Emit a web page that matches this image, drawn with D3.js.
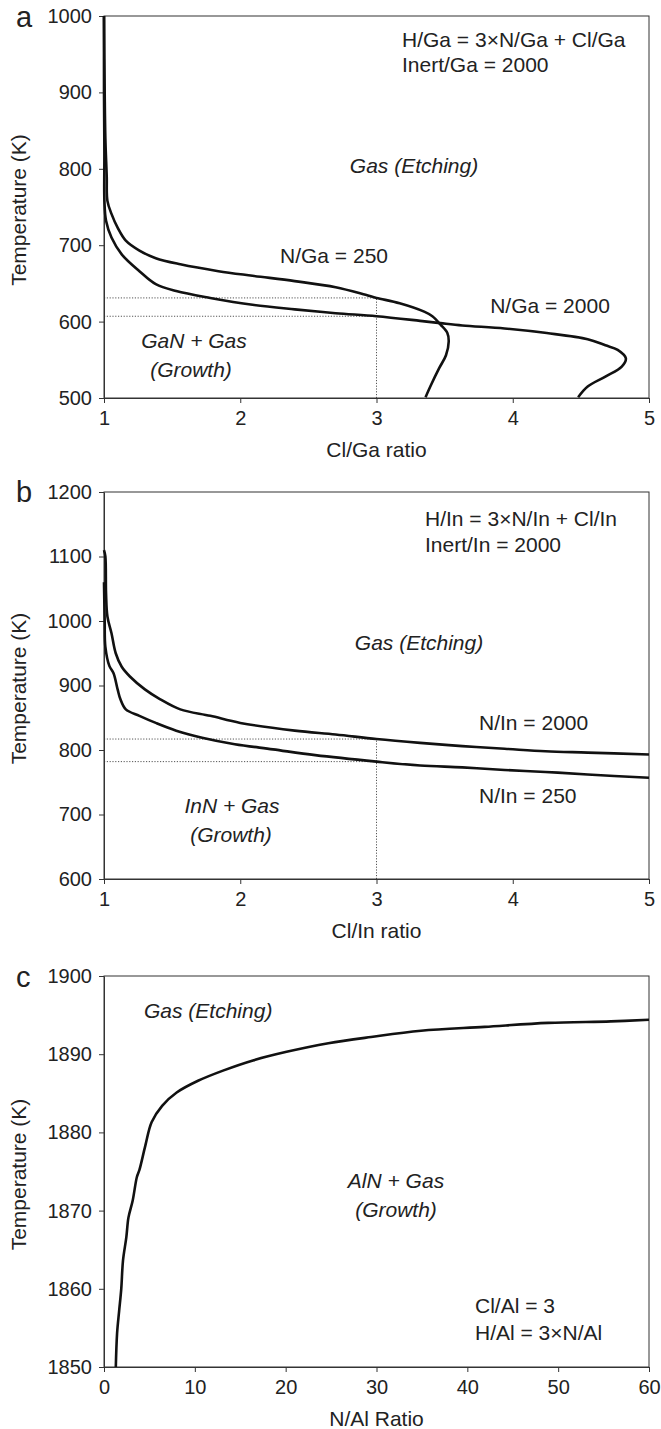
<!DOCTYPE html>
<html>
<head>
<meta charset="utf-8">
<script src="https://cdn.jsdelivr.net/npm/d3@7"></script>
<style>
  body { margin: 0; background: #fff; }
  text { font-family: "Liberation Sans", Arial, sans-serif; fill: #222; }
</style>
</head>
<body>
<script>
// ---- data ----
// panel a : Cl/Ga ratio vs temperature
const gaTicksX = [1, 2, 3, 4, 5]
const gaTicksY = [500, 600, 700, 800, 900, 1000]
const gaN250 = [[1.0,1000],[1.005,900],[1.01,840],[1.02,790],[1.025,758],[1.055,741],[1.10,723],[1.16,706],[1.26,693],
  [1.38,683],[1.56,675],[1.84,666],[2.09,660],[2.40,653],[2.70,645],[2.92,635],[3.0,631],[3.17,624],[3.35,613],
  [3.41,607],[3.47,596],[3.52,585],[3.53,574],[3.51,556],[3.46,539],[3.40,517],[3.36,501]]
const gaN2000 = [[1.0,1000],[1.0,900],[1.003,820],[1.003,758],[1.015,732],[1.055,710],[1.13,688],[1.26,666],[1.38,649],
  [1.53,640],[1.78,631],[2.09,622],[2.40,616],[2.70,611],[3.0,607],[3.32,601],[3.47,598],[3.63,595],[3.94,591],
  [4.25,585],[4.55,577],[4.68,569],[4.77,563],[4.83,552],[4.80,541],[4.68,528],[4.55,515],[4.48,501]]
const gaGuide = {x: 3, temps: [631, 607]}

// panel b : Cl/In ratio vs temperature
const inTicksX = [1, 2, 3, 4, 5]
const inTicksY = [600, 700, 800, 900, 1000, 1100, 1200]
const inN2000 = [[1.0,1110],[1.01,1100],[1.015,1043],[1.025,1007],[1.055,981],[1.086,950],[1.13,929],[1.19,914],
  [1.30,894],[1.41,879],[1.56,863],[1.78,853],[2.0,842],[2.40,830],[2.70,824],[3.0,817],[3.32,811],[3.63,806],
  [3.94,802],[4.24,798],[4.55,796],[5.0,793]]
const inN250 = [[1.0,1060],[1.005,1000],[1.01,960],[1.04,930],[1.07,919],[1.10,894],[1.12,879],[1.16,863],[1.26,853],
  [1.38,842],[1.53,830],[1.72,819],[1.96,809],[2.24,801],[2.55,792],[3.0,782],[3.32,776],[3.63,773],[3.94,769],
  [4.24,766],[4.55,762],[5.0,757]]
const inGuide = {x: 3, temps: [817, 782]}

// panel c : N/Al ratio vs temperature
const alTicksX = [0, 10, 20, 30, 40, 50, 60]
const alTicksY = [1850, 1860, 1870, 1880, 1890, 1900]
const alN = [[1.3,1850],[1.44,1854.3],[1.67,1857.2],[1.9,1860],[2.09,1863.6],[2.46,1866.6],[2.69,1869.1],[3.16,1871.3],
  [3.62,1874.3],[3.9,1875.2],[4.55,1878.3],[5.24,1881.3],[6.4,1883.4],[8.0,1885.1],[10.35,1886.6],[13.1,1887.9],
  [16.4,1889.2],[20.1,1890.3],[24.7,1891.4],[29.4,1892.2],[34.9,1893.0],[41.9,1893.5],[48.9,1894.0],[55.8,1894.2],[60,1894.4]]

const svg = d3.select("body").append("svg")
  .attr("width", 661)
  .attr("height", 1429)

const left = 104, right = 649
const fs = 21      // annotation / title size
const tickFs = 20  // tick label size

function drawPanel(p) {
  const x = d3.scaleLinear().domain(p.xDomain).range([left, right])
  const y = d3.scaleLinear().domain(p.yDomain).range([p.bottom, p.top])
  const g = svg.append("g")

  // guides (dotted)
  if (p.guide) {
    p.guide.temps.forEach(t => {
      g.append("line")
        .attr("x1", x(p.xDomain[0])).attr("x2", x(p.guide.x))
        .attr("y1", y(t)).attr("y2", y(t))
        .attr("class", "guide")
    })
    g.append("line")
      .attr("x1", x(p.guide.x)).attr("x2", x(p.guide.x))
      .attr("y1", y(p.yDomain[0])).attr("y2", y(d3.max(p.guide.temps)))
      .attr("class", "guide")
    g.selectAll(".guide")
      .attr("stroke", "#555")
      .attr("stroke-width", 1)
      .attr("stroke-dasharray", "1.2,1.6")
  }

  // frame
  g.append("rect")
    .attr("x", left).attr("y", p.top)
    .attr("width", right - left).attr("height", p.bottom - p.top)
    .attr("fill", "none").attr("stroke", "#333").attr("stroke-width", 1)

  const yAxis = g.append("g")
    .attr("transform", `translate(${left},0)`)
    .call(d3.axisLeft(y).tickValues(p.yTicks).tickSize(5).tickSizeOuter(0).tickPadding(7).tickFormat(d3.format("d")))
  const xAxis = g.append("g")
    .attr("transform", `translate(0,${p.bottom})`)
    .call(d3.axisBottom(x).tickValues(p.xTicks).tickSize(5).tickSizeOuter(0).tickPadding(8).tickFormat(d3.format("d")))
  ;[yAxis, xAxis].forEach(a => {
    a.select(".domain").attr("stroke", "#333")
    a.selectAll(".tick line").attr("stroke", "#333")
    a.selectAll(".tick text").style("font-size", tickFs + "px").attr("fill", "#222")
      .style("font-family", '"Liberation Sans", Arial, sans-serif')
  })

  // curves
  const line = d3.line().curve(d3.curveCatmullRom.alpha(0.5)).x(d => x(d[0])).y(d => y(d[1]))
  p.series.forEach(s => {
    g.append("path")
      .datum(s)
      .attr("d", line)
      .attr("fill", "none")
      .attr("stroke", "#111")
      .attr("stroke-width", 2.6)
      .attr("stroke-linejoin", "round")
  })

  // axis titles
  g.append("text")
    .attr("x", (left + right) / 2).attr("y", p.bottom + 59)
    .attr("text-anchor", "middle").style("font-size", fs + "px")
    .text(p.xTitle)
  g.append("text")
    .attr("transform", `translate(26,${(p.top + p.bottom) / 2 + 3}) rotate(-90)`)
    .attr("text-anchor", "middle").style("font-size", fs + "px")
    .text("Temperature (K)")

  // panel letter
  g.append("text")
    .attr("x", 16).attr("y", p.letterY)
    .style("font-size", "29px")
    .text(p.letter)

  // annotations
  p.notes.forEach(n => {
    g.append("text")
      .attr("x", n[0]).attr("y", n[1])
      .attr("text-anchor", n[3] || "start")
      .style("font-size", fs + "px")
      .style("font-style", n[4] ? "italic" : "normal")
      .text(n[2])
  })
}

drawPanel({
  top: 16, bottom: 398, letter: "a", letterY: 27,
  xDomain: [1, 5], yDomain: [500, 1000], xTicks: gaTicksX, yTicks: gaTicksY,
  series: [gaN250, gaN2000], guide: gaGuide, xTitle: "Cl/Ga ratio",
  notes: [
    [402, 47, "H/Ga = 3×N/Ga + Cl/Ga"],
    [402, 72, "Inert/Ga = 2000"],
    [414, 173, "Gas (Etching)", "middle", true],
    [334, 263, "N/Ga = 250", "middle"],
    [550, 313, "N/Ga = 2000", "middle"],
    [194, 348, "GaN + Gas", "middle", true],
    [191, 377, "(Growth)", "middle", true]
  ]
})

drawPanel({
  top: 492, bottom: 879, letter: "b", letterY: 502,
  xDomain: [1, 5], yDomain: [600, 1200], xTicks: inTicksX, yTicks: inTicksY,
  series: [inN2000, inN250], guide: inGuide, xTitle: "Cl/In ratio",
  notes: [
    [425, 526, "H/In = 3×N/In + Cl/In"],
    [425, 552, "Inert/In = 2000"],
    [419, 650, "Gas (Etching)", "middle", true],
    [479, 730, "N/In = 2000"],
    [479, 803, "N/In = 250"],
    [232, 813, "InN + Gas", "middle", true],
    [231, 842, "(Growth)", "middle", true]
  ]
})

drawPanel({
  top: 976, bottom: 1367, letter: "c", letterY: 987,
  xDomain: [0, 60], yDomain: [1850, 1900], xTicks: alTicksX, yTicks: alTicksY,
  series: [alN], guide: null, xTitle: "N/Al Ratio",
  notes: [
    [144, 1018, "Gas (Etching)", "start", true],
    [396, 1188, "AlN + Gas", "middle", true],
    [396, 1217, "(Growth)", "middle", true],
    [475, 1313, "Cl/Al = 3"],
    [475, 1340, "H/Al = 3×N/Al"]
  ]
})
</script>
</body>
</html>
